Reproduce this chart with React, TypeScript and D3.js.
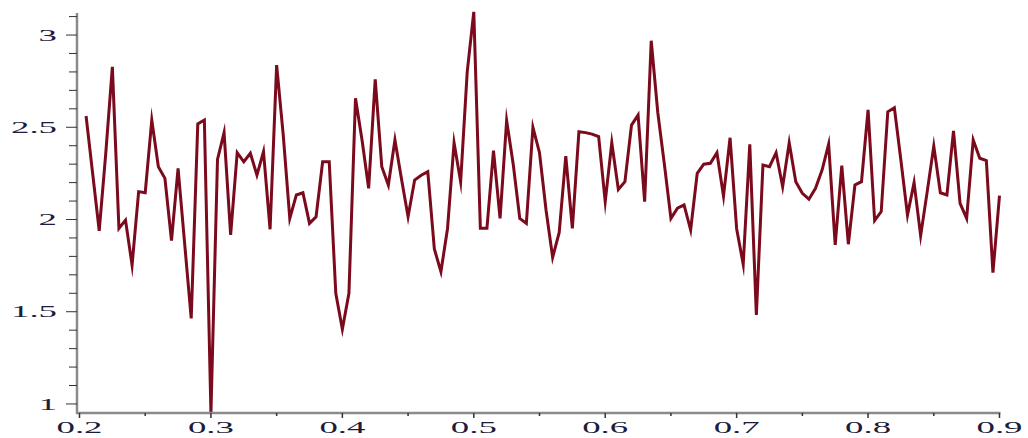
import React from "react";
import * as d3 from "d3";

const xStart = 0.205;
const xStep = 0.005;
const values: number[] = [
  2.561, 2.25, 1.939, 2.36, 2.828, 1.952, 1.997, 1.753, 2.151, 2.145,
  2.539, 2.286, 2.223, 1.885, 2.277, 1.87, 1.464, 2.518, 2.539, 0.95,
  2.326, 2.471, 1.916, 2.362, 2.313, 2.359, 2.241, 2.368, 1.947, 2.837,
  2.46, 2.006, 2.133, 2.145, 1.979, 2.015, 2.313, 2.313, 1.6, 1.405,
  1.6, 2.657, 2.43, 2.169, 2.76, 2.286, 2.187, 2.431, 2.22, 2.015,
  2.214, 2.24, 2.259, 1.84, 1.717, 1.95, 2.416, 2.205, 2.8, 3.126,
  1.952, 1.952, 2.373, 2.006, 2.536, 2.3, 2.006, 1.979, 2.5, 2.362,
  2.05, 1.795, 1.93, 2.344, 1.952, 2.476, 2.471, 2.463, 2.449, 2.097,
  2.416, 2.163, 2.205, 2.512, 2.566, 2.097, 2.969, 2.58, 2.3, 2.006,
  2.061, 2.079, 1.943, 2.25, 2.3, 2.305, 2.362, 2.127, 2.443, 1.95,
  1.757, 2.407, 1.482, 2.295, 2.286, 2.362, 2.178, 2.416, 2.205, 2.142,
  2.11, 2.169, 2.268, 2.409, 1.862, 2.292, 1.866, 2.187, 2.205, 2.594,
  1.994, 2.043, 2.584, 2.606, 2.32, 2.024, 2.2, 1.912, 2.151, 2.398,
  2.145, 2.133, 2.48, 2.088, 2.006, 2.431, 2.332, 2.319, 1.712, 2.129,
];
const xTickLabels = ["0.2", "0.3", "0.4", "0.5", "0.6", "0.7", "0.8", "0.9"];
const xMajorTicks = [0.2, 0.3, 0.4, 0.5, 0.6, 0.7, 0.8, 0.9];
const xMinorTicks = [0.25, 0.35, 0.45, 0.55, 0.65, 0.75, 0.85];
const yMajorTicks = [1, 1.5, 2, 2.5, 3];
const yTickLabels = ["1", "1.5", "2", "2.5", "3"];
const yMinorTicks = [
  1.1, 1.2, 1.3, 1.4, 1.6, 1.7, 1.8, 1.9, 2.1, 2.2, 2.3, 2.4, 2.6, 2.7, 2.8,
  2.9, 3.1,
];

const W = 1028;
const H = 438;

export default function App() {
  const x = d3.scaleLinear().domain([0.2, 0.9]).range([79.5, 999.5]);
  const y = d3.scaleLinear().domain([0.951, 3.12]).range([413, 12.9]);
  const axisX = 77;
  const axisY = 413;

  const pts: [number, number][] = values.map((v, i) => [xStart + i * xStep, v]);
  const line = d3
    .line<[number, number]>()
    .x((d) => x(d[0]))
    .y((d) => y(d[1]));

  const textColor = "#1c1c3c";
  const tickColor = "#333";
  const labelStyle = {
    fontFamily: "'Liberation Serif', 'DejaVu Serif', serif",
    fontSize: 16,
    fill: textColor,
  } as React.CSSProperties;

  return (
    <svg
      width={W}
      height={H}
      style={{ position: "absolute", left: 0, top: 0, background: "#fff" }}
    >
      <defs>
        <clipPath id="plotclip">
          <rect x={axisX} y={0} width={W - axisX} height={axisY} />
        </clipPath>
      </defs>
      <rect x={0} y={0} width={W} height={H} fill="#fff" />
      <path
        d={line(pts) || ""}
        fill="none"
        stroke="#7a0a1c"
        strokeWidth={3}
        strokeLinejoin="miter"
        strokeMiterlimit={10}
        clipPath="url(#plotclip)"
      />
      <line x1={axisX} x2={axisX} y1={y(3.12)} y2={axisY + 1} stroke="#8a8a8a" strokeWidth={2.5} />
      <line x1={axisX - 1} x2={x(0.9) + 1} y1={axisY} y2={axisY} stroke="#8a8a8a" strokeWidth={2.5} />
      {yMajorTicks.map((t) => (
        <line key={"ym" + t} x1={axisX - 11} x2={axisX} y1={y(t)} y2={y(t)} stroke={tickColor} strokeWidth={1} />
      ))}
      {yMinorTicks.map((t) => (
        <line key={"yn" + t} x1={axisX - 8} x2={axisX} y1={y(t)} y2={y(t)} stroke={tickColor} strokeWidth={1} />
      ))}
      {xMajorTicks.map((t) => (
        <line key={"xm" + t} x1={x(t)} x2={x(t)} y1={axisY} y2={axisY + 5} stroke={tickColor} strokeWidth={1.5} />
      ))}
      {xMinorTicks.map((t) => (
        <line key={"xn" + t} x1={x(t)} x2={x(t)} y1={axisY} y2={axisY + 3} stroke={tickColor} strokeWidth={1.5} />
      ))}
      {yMajorTicks.map((t, i) => (
        <text
          key={"yl" + t}
          transform={`translate(57,${y(t)}) scale(2.3,1)`}
          textAnchor="end"
          dy="0.36em"
          style={labelStyle}
        >
          {yTickLabels[i]}
        </text>
      ))}
      {xMajorTicks.map((t, i) => (
        <text
          key={"xl" + t}
          transform={`translate(${x(t)},433) scale(2.3,1)`}
          textAnchor="middle"
          style={labelStyle}
        >
          {xTickLabels[i]}
        </text>
      ))}
    </svg>
  );
}
